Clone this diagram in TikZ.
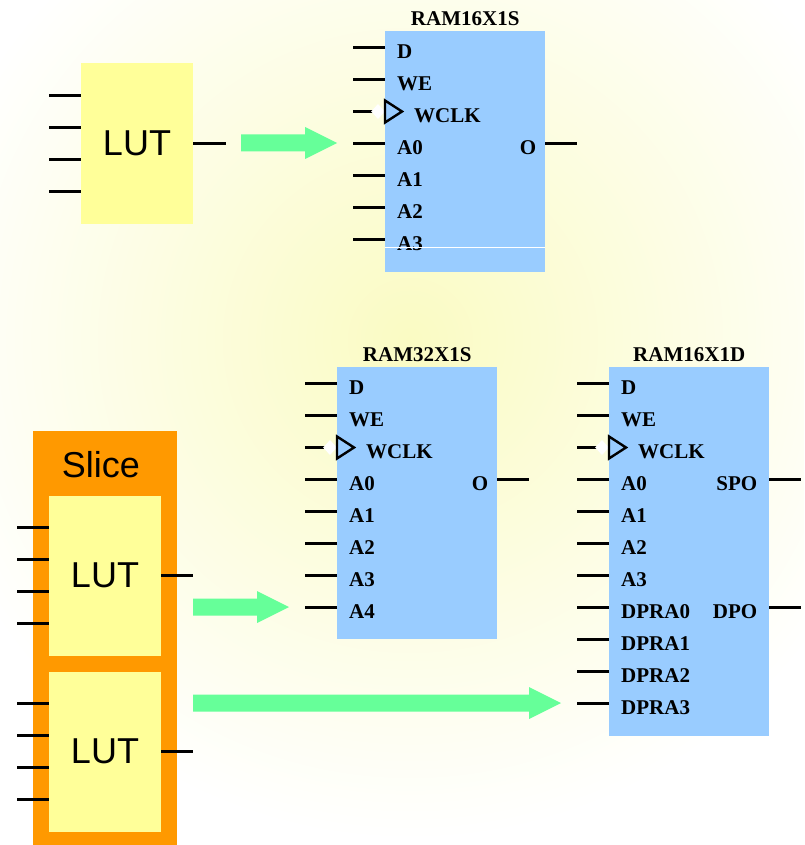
\documentclass[tikz,border=0pt]{standalone}
\usepackage{fontspec}
\setmainfont{Liberation Serif}
\newfontfamily\lutfont{Liberation Sans}
\usetikzlibrary{positioning,shapes.geometric}

\definecolor{lutyellow}{RGB}{255,255,153}
\definecolor{ramblue}{RGB}{153,204,255}
\definecolor{sliceorange}{RGB}{255,153,0}
\definecolor{arrowgreen}{RGB}{102,255,153}
\definecolor{bgyellow}{RGB}{250,251,195}

\tikzset{
  lutbox/.style={fill=lutyellow,minimum width=112,minimum height=160,inner sep=0pt,font=\lutfont\fontsize{36}{40}\selectfont},
  slicebox/.style={fill=sliceorange,minimum width=144,minimum height=414,inner sep=0pt,anchor=north west},
  rambox/.style={fill=ramblue,minimum width=160,inner sep=0pt,anchor=north west},
  ramtitle/.style={inner sep=0pt,font=\bfseries\fontsize{21}{24}\selectfont},
  pinlab/.style={inner sep=0pt,anchor=west,font=\bfseries\fontsize{21}{24}\selectfont},
  outlab/.style={pinlab,anchor=east},
  pinline/.style={line width=3pt},
  clk/.style={line width=2.4pt,line join=miter},
  clkdot/.style={diamond,fill=white,inner sep=0pt,minimum width=14,minimum height=15},
  fat/.style={fill=arrowgreen}
}

% fat green arrow: start point, shaft length
\newcommand\fatarrow[2]{%
  \fill[fat] (#1) ++(0,-8.5) -- ++(#2,0) -- ++(0,-7.5) -- ++(32,16) -- ++(-32,16) -- ++(0,-7.5) -- ++(-#2,0) -- cycle;}

\begin{document}
\begin{tikzpicture}[x=1pt,y=-1pt]
\useasboundingbox (0,0) rectangle (804,845);
\begin{scope}
  \clip (0,0) rectangle (804,845);
  \shade[inner color=bgyellow,outer color=white] (-90,-160) rectangle (910,840);
\end{scope}

% one LUT
\node[lutbox] (lut1) at (137,143.5) {LUT};
\foreach \k in {-48,-16,16,48}
  \draw[pinline] (lut1.west) ++(0,\k) -- ++(-32,0);
\draw[pinline] (lut1.east) -- ++(33,0);

% slice with two LUTs
\node[slicebox] (slice) at (33,431) {};
\node[font=\lutfont\fontsize{36}{40}\selectfont,inner sep=0pt] (slicelab) at (101,465) {Slice};
\node[lutbox] (lut2) at (105,575.5) {LUT};
\node[lutbox] (lut3) at (105,751.5) {LUT};
\foreach \k in {-48,-16,16,48}
{
  \draw[pinline] (lut2.west) ++(0,\k) -- ++(-32,0);
  \draw[pinline] (lut3.west) ++(0,\k) -- ++(-32,0);
}
\draw[pinline] (lut2.east) -- ++(32,0);
\draw[pinline] (lut3.east) -- ++(32,0);

% arrows
\coordinate (arr1) at (241,143);
\coordinate (arr2) at (193,607);
\coordinate (arr3) at (193,703);
\fatarrow{arr1}{64}
\fatarrow{arr2}{64}
\fatarrow{arr3}{336}

% RAM16X1S
\node[rambox,minimum height=241] (ram1) at (385,31) {};
\node[ramtitle,above=5pt of ram1] (ram1t) {RAM16X1S};
\foreach \lab [count=\i] in {D,WE,WCLK,A0,A1,A2,A3}
{
  \pgfmathsetmacro\py{16.5+32*(\i-1)}
  \pgfmathsetmacro\dx{\i==3 ? 29 : 12}
  \draw[pinline] (ram1.north west) ++(0,\py) -- ++(-32,0);
  \path (ram1.north west) ++(\dx,\py+4) node[pinlab] (ram1p\i) {\lab};
}
\path (ram1.north west) ++(-7,80.5) node[clkdot] (ram1d) {};
\draw[clk] (ram1.north west) ++(0,69.5) -- ++(17,11) -- ++(-17,11) -- cycle;
\draw[white,line width=1pt] (ram1.north west) ++(0,216) -- ++(160,0);
\draw[pinline] (ram1.north east) ++(0,112.5) -- ++(32,0);
\path (ram1.north east) ++(-9,116.5) node[outlab] (ram1o) {O};

% RAM32X1S
\node[rambox,minimum height=272] (ram2) at (337,367) {};
\node[ramtitle,above=5pt of ram2] (ram2t) {RAM32X1S};
\foreach \lab [count=\i] in {D,WE,WCLK,A0,A1,A2,A3,A4}
{
  \pgfmathsetmacro\py{16.5+32*(\i-1)}
  \pgfmathsetmacro\dx{\i==3 ? 29 : 12}
  \draw[pinline] (ram2.north west) ++(0,\py) -- ++(-32,0);
  \path (ram2.north west) ++(\dx,\py+4) node[pinlab] (ram2p\i) {\lab};
}
\path (ram2.north west) ++(-7,80.5) node[clkdot] (ram2d) {};
\draw[clk] (ram2.north west) ++(0,69.5) -- ++(17,11) -- ++(-17,11) -- cycle;
\draw[pinline] (ram2.north east) ++(0,112.5) -- ++(32,0);
\path (ram2.north east) ++(-9,116.5) node[outlab] (ram2o) {O};

% RAM16X1D
\node[rambox,minimum height=369] (ram3) at (609,367) {};
\node[ramtitle,above=5pt of ram3] (ram3t) {RAM16X1D};
\foreach \lab [count=\i] in {D,WE,WCLK,A0,A1,A2,A3,DPRA0,DPRA1,DPRA2,DPRA3}
{
  \pgfmathsetmacro\py{16.5+32*(\i-1)}
  \pgfmathsetmacro\dx{\i==3 ? 29 : 12}
  \draw[pinline] (ram3.north west) ++(0,\py) -- ++(-32,0);
  \path (ram3.north west) ++(\dx,\py+4) node[pinlab] (ram3p\i) {\lab};
}
\path (ram3.north west) ++(-7,80.5) node[clkdot] (ram3d) {};
\draw[clk] (ram3.north west) ++(0,69.5) -- ++(17,11) -- ++(-17,11) -- cycle;
\draw[pinline] (ram3.north east) ++(0,112.5) -- ++(32,0);
\draw[pinline] (ram3.north east) ++(0,240.5) -- ++(32,0);
\path (ram3.north east) ++(-12,116.5) node[outlab] (ram3spo) {SPO};
\path (ram3.north east) ++(-12,244.5) node[outlab] (ram3dpo) {DPO};
\end{tikzpicture}
\end{document}
